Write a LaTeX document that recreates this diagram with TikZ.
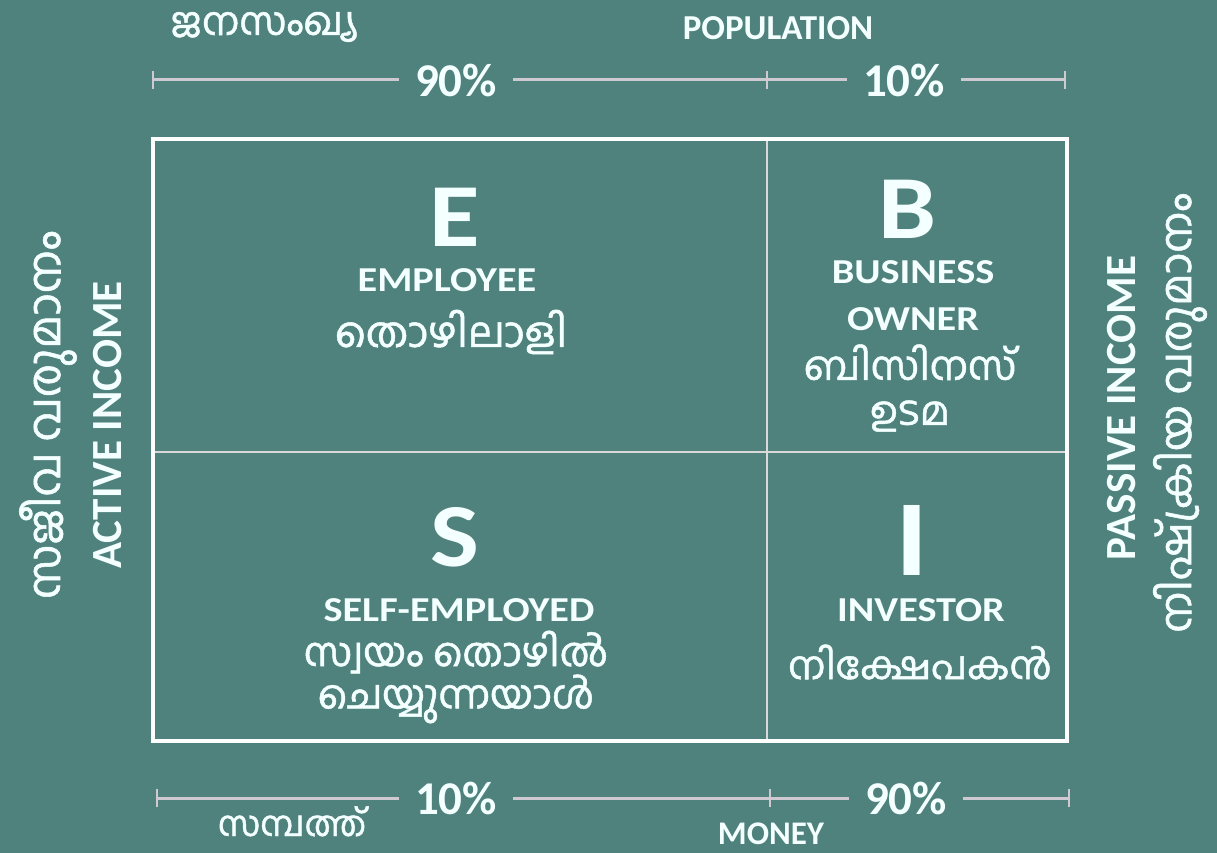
\documentclass[tikz,border=0pt]{standalone}
\usepackage{fontspec}
\setmainfont{Carlito}
\newfontfamily\widefont[FakeStretch=1.15]{Carlito}
\newfontfamily\malfont[Script=Malayalam, FakeBold=1.2]{Hind Kochi}
\definecolor{bgteal}{HTML}{4F827D}
\definecolor{dimgray}{HTML}{CFCAD2}
\definecolor{dimshade}{HTML}{3A5754}
\definecolor{txtwhite}{HTML}{F4FFFF}
\definecolor{divgray}{HTML}{D9D9D9}
\begin{document}
\begin{tikzpicture}[x=1pt,y=-1pt,
  every node/.style={inner sep=0pt, text=txtwhite},
  eng/.style={font=\bfseries\fontsize{35}{35}\selectfont},
  quad/.style={font=\widefont\bfseries\fontsize{35}{35}\selectfont},
  side/.style={font=\bfseries\fontsize{43}{43}\selectfont},
  mal/.style={font=\malfont\fontsize{40}{42}\selectfont, align=center},
  malside/.style={font=\malfont\fontsize{45}{45}\selectfont},
  pct/.style={font=\bfseries\fontsize{47}{47}\selectfont},
  letter/.style={font=\widefont\bfseries\fontsize{90}{90}\selectfont},
  dimline/.style={draw=dimgray, line width=3pt},
  dimshadow/.style={draw=dimshade, line width=3pt},
  frame/.style={draw=white, line width=4pt},
  divider/.style={draw=divgray, line width=2.5pt}]
  % canvas
  \fill[bgteal] (0,0) rectangle (1217,853);
  \useasboundingbox (0,0) rectangle (1217,853);

  % four-quadrant grid
  \coordinate (tl) at (153,139);
  \coordinate (br) at (1067,741);
  \coordinate (vt) at (767,139);
  \coordinate (vb) at (767,741);
  \coordinate (hl) at (153,452);
  \coordinate (hr) at (1067,452);
  \draw[divider] (vt) -- (vb);
  \draw[divider] (hl) -- (hr);
  \draw[frame] (tl) rectangle (br);

  % population scale (top)
  \coordinate (pa) at (153,80);
  \coordinate (pm) at (767,80);
  \coordinate (pb) at (1065,80);
  \node[pct] (p90) at (456,80) {90\%};
  \node[pct] (p10) at (904,80) {10\%};
  \foreach \s/\o in {dimshadow/1.8, dimline/0} {
    \begin{scope}[yshift=-\o pt]
      \draw[\s] (pa) -- ([xshift=-16pt]p90.west);
      \draw[\s] ([xshift=16pt]p90.east) -- ([xshift=-16pt]p10.west);
      \draw[\s] ([xshift=16pt]p10.east) -- (pb);
    \end{scope}
  }
  \foreach \c in {pa,pm,pb}
    \draw[dimgray, line width=2.5pt] ([yshift=-9pt]\c) -- ([yshift=9pt]\c);

  % money scale (bottom)
  \coordinate (ma) at (157,798);
  \coordinate (mm) at (770,798);
  \coordinate (mb) at (1069,798);
  \node[pct] (m10) at (456,798) {10\%};
  \node[pct] (m90) at (906,798) {90\%};
  \foreach \s/\o in {dimshadow/1.8, dimline/0} {
    \begin{scope}[yshift=-\o pt]
      \draw[\s] (ma) -- ([xshift=-16pt]m10.west);
      \draw[\s] ([xshift=16pt]m10.east) -- ([xshift=-16pt]m90.west);
      \draw[\s] ([xshift=16pt]m90.east) -- (mb);
    \end{scope}
  }
  \foreach \c in {ma,mm,mb}
    \draw[dimgray, line width=2.5pt] ([yshift=-9pt]\c) -- ([yshift=9pt]\c);

  % scale captions
  \node[mal, font=\malfont\fontsize{39}{39}\selectfont] (popml) at (264,27) {ജനസംഖ്യ};
  \node[eng] (popen) at (778,28) {POPULATION};
  \node[mal, font=\malfont\fontsize{35}{35}\selectfont, text depth=0pt, anchor=base] (monml) at (292,836) {സമ്പത്ത്};
  \node[eng, font=\bfseries\fontsize{33}{33}\selectfont] (monen) at (771,834) {MONEY};

  % side captions
  \node[malside, rotate=90] (actml) at (48,415) {സജീവ വരുമാനം};
  \node[side, rotate=90] (acten) at (108,425) {ACTIVE INCOME};
  \node[side, rotate=90] (pasen) at (1122,408) {PASSIVE INCOME};
  \node[malside, font=\malfont\fontsize{43}{43}\selectfont, rotate=90] (pasml) at (1180,413) {നിഷ്ക്രിയ വരുമാനം};

  % E quadrant
  \node[letter] (E) at (455,217) {E};
  \node[quad] (Een) at (447,280) {EMPLOYEE};
  \node[mal, font=\malfont\fontsize{42}{42}\selectfont] (Eml) at (451,332) {തൊഴിലാളി};

  % B quadrant
  \node[letter] (B) at (907,209) {B};
  \node[quad] (Ben1) at (913,272) {BUSINESS};
  \node[quad] (Ben2) at (913,319) {OWNER};
  \node[mal, font=\malfont\fontsize{40}{45}\selectfont] (Bml) at (910,388) {ബിസിനസ്\\ഉടമ};

  % S quadrant
  \node[letter] (S) at (455,537) {S};
  \node[quad] (Sen) at (459,610) {SELF-EMPLOYED};
  \node[mal, font=\malfont\fontsize{40}{41}\selectfont] (Sml) at (456,677) {സ്വയം തൊഴിൽ\\ചെയ്യുന്നയാൾ};

  % I quadrant
  \node[letter, font=\widefont\bfseries\fontsize{108}{108}\selectfont] (I) at (912,540) {I};
  \node[quad] (Ien) at (921,610) {INVESTOR};
  \node[mal, font=\malfont\fontsize{39}{39}\selectfont] (Iml) at (920,662) {നിക്ഷേപകൻ};
\end{tikzpicture}
\end{document}
